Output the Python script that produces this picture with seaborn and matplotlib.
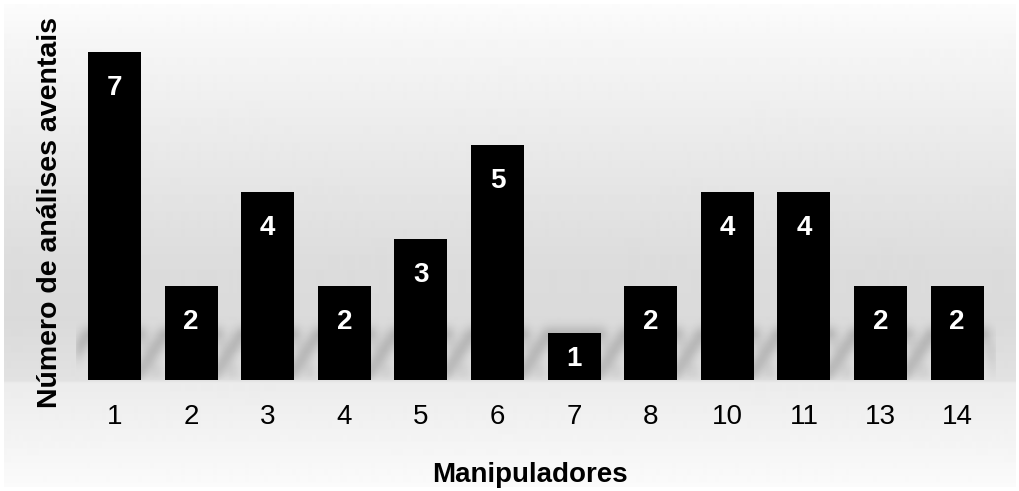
import numpy as np
import matplotlib
matplotlib.use("Agg")
import matplotlib.pyplot as plt
import seaborn as sns

# Data
manipuladores = ["1", "2", "3", "4", "5", "6", "7", "8", "10", "11", "13", "14"]
analises = [7, 2, 4, 2, 3, 5, 1, 2, 4, 4, 2, 2]

sns.set_theme(style="white")
plt.rcParams["font.family"] = ["Liberation Sans", "DejaVu Sans"]
plt.rcParams["text.color"] = "black"

W, H, DPI = 1020, 491, 100
fig = plt.figure(figsize=(W / DPI, H / DPI), dpi=DPI, facecolor="white")

# Soft vertical background gradient behind the whole chart
bg = fig.add_axes([0, 0, 1, 1], zorder=-2)
bg.set_axis_off()
rows = np.arange(4, H - 4) + 0.5
stop_y = [0, 40, 150, 260, 320, 381, 383, 430, 491]
stop_v = [0.99, 0.965, 0.915, 0.865, 0.855, 0.885, 0.925, 0.95, 0.985]
col = np.interp(rows, stop_y, stop_v)
bg.imshow(col[:, None], cmap="gray", vmin=0, vmax=1,
          extent=(4, W - 4, H - 4, 4), aspect="auto", interpolation="bilinear")
bg.set_xlim(0, W)
bg.set_ylim(H, 0)

# Plot area geometry (pixels)
ax_left, ax_right = 76.2, 995.4
base_y = 380
unit = 46.9
ymax = 7.8
ax = fig.add_axes([ax_left / W, (H - base_y) / H,
                   (ax_right - ax_left) / W, ymax * unit / H])
ax.set_facecolor("none")

bar_w = 0.69
sns.barplot(x=manipuladores, y=analises, order=manipuladores, color="black",
            saturation=1, width=bar_w, linewidth=0, ax=ax, zorder=3)

x0, x1 = -0.5, len(manipuladores) - 0.5

# Soft slanted shadows around the foot of each bar
nx = int(round(ax_right - ax_left))
ny = int(round(ymax * unit))
px_x = (ax_right - ax_left) / (x1 - x0)
xp = np.arange(nx) + 0.5
yp = ny - 1 - np.arange(ny) + 0.5
XP, YP = np.meshgrid(xp, yp)


def seg_dist(ax_, ay_, bx_, by_):
    dx, dy = bx_ - ax_, by_ - ay_
    t = np.clip(((XP - ax_) * dx + (YP - ay_) * dy) / (dx * dx + dy * dy), 0, 1)
    return np.hypot(XP - (ax_ + t * dx), YP - (ay_ + t * dy))


shade = np.zeros((ny, nx))
top_px, wing_l, wing_r, foot = 46.0, 26.0, 16.0, 6.0
for i, v in enumerate(analises):
    t = min(top_px, v * unit + 4)
    xl = (i - bar_w / 2 - x0) * px_x
    xr = (i + bar_w / 2 - x0) * px_x
    d_main = np.minimum(seg_dist(xl - wing_l, foot, xl, t),
                        seg_dist(xl, t, xr, t))
    d_side = seg_dist(xr, t, xr + wing_r, foot)
    shade = np.maximum(shade, np.exp(-0.5 * (d_main / 4.5) ** 2))
    shade = np.maximum(shade, 0.45 * np.exp(-0.5 * (d_side / 4.5) ** 2))


def blur(a, sigma):
    r = int(3 * sigma)
    k = np.exp(-0.5 * (np.arange(-r, r + 1) / sigma) ** 2)
    k /= k.sum()
    a = np.apply_along_axis(lambda m: np.convolve(m, k, mode="same"), 0, a)
    a = np.apply_along_axis(lambda m: np.convolve(m, k, mode="same"), 1, a)
    return a


shade = blur(shade, 4.0)
rgba = np.zeros((ny, nx, 4))
rgba[..., 3] = np.clip(shade * 0.22, 0, 1)
ax.imshow(rgba, extent=(x0, x1, 0, ymax), origin="upper", aspect="auto",
          zorder=1, interpolation="bilinear")
ax.set_xlim(x0, x1)
ax.set_ylim(0, ymax)

# Value labels inside the bars
for i, v in enumerate(analises):
    yc = v - min(0.70, v * 0.48)
    ax.text(i, yc, str(v), ha="center", va="center_baseline", color="white",
            fontsize=20, fontweight="bold", zorder=4)

ax.set_xlabel("")
ax.set_ylabel("")
ax.set_yticks([])
ax.tick_params(axis="x", length=0, pad=17, labelsize=20, labelcolor="black")
for s in ax.spines.values():
    s.set_visible(False)

fig.text(530 / W, 1 - 475 / H, "Manipuladores", ha="center", va="center",
         fontsize=20, fontweight="bold", color="black")
fig.text(50 / W, 1 - 212 / H, "Número de análises aventais", rotation=90,
         ha="center", va="center", fontsize=20.5, fontweight="bold",
         color="black")

fig.savefig("out.png", dpi=DPI, facecolor="white")
